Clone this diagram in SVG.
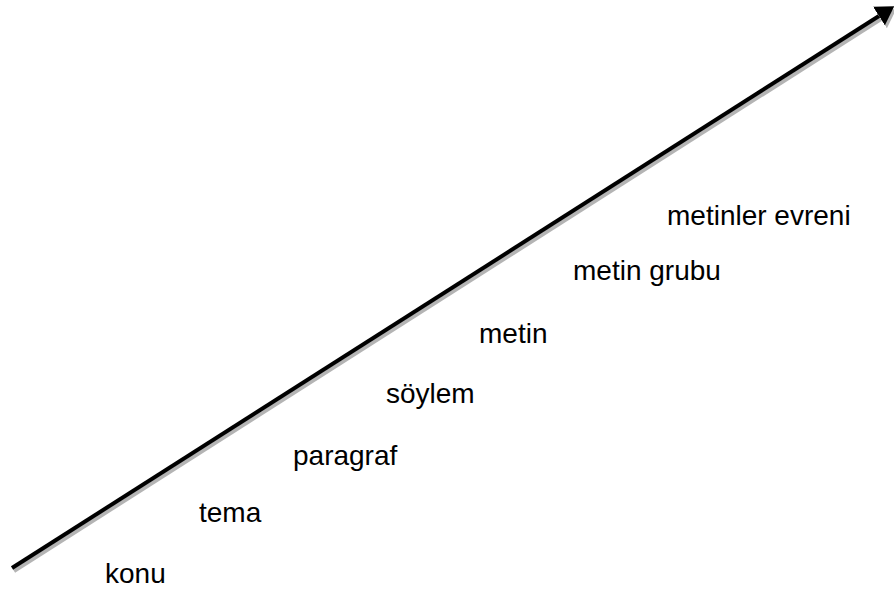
<svg xmlns="http://www.w3.org/2000/svg" width="894" height="597" viewBox="0 0 894 597">
<style>
.lbl{font-family:"Liberation Sans",Arial,sans-serif;font-size:28px;fill:#000}
.ln{fill:none;stroke:#000;stroke-width:4}
.sh{fill:none;stroke:#b4b4b4;stroke-width:4}
</style>
<defs>
<marker id="ah" viewBox="0 0 18 22" refX="0" refY="11" markerWidth="18" markerHeight="22" markerUnits="userSpaceOnUse" orient="auto"><path d="M0,0 L18,11 L0,22 z" fill="#000"/></marker>
<marker id="ahs" viewBox="0 0 18 22" refX="0" refY="11" markerWidth="18" markerHeight="22" markerUnits="userSpaceOnUse" orient="auto"><path d="M0,0 L18,11 L0,22 z" fill="#b4b4b4"/></marker>
</defs>
<rect width="894" height="597" fill="#fff"/>
<g id="connectors">
<path class="sh" d="M14,571 L881,19" marker-end="url(#ahs)"/>
<path class="ln" d="M12,568 L879,16" marker-end="url(#ah)"/>
</g>
<g id="konu"><text class="lbl" x="105" y="583">konu</text></g>
<g id="tema"><text class="lbl" x="199" y="522">tema</text></g>
<g id="paragraf"><text class="lbl" x="293" y="465">paragraf</text></g>
<g id="soylem"><text class="lbl" x="386" y="403">söylem</text></g>
<g id="metin"><text class="lbl" x="479" y="343">metin</text></g>
<g id="metin-grubu"><text class="lbl" x="573" y="280">metin grubu</text></g>
<g id="metinler-evreni"><text class="lbl" x="667" y="225">metinler evreni</text></g>
</svg>
